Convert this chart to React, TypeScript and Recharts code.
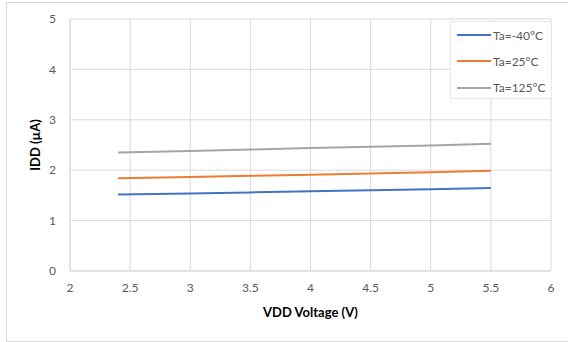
import React from 'react'
import { LineChart, Line, XAxis, YAxis, CartesianGrid, Label } from 'recharts'

const voltages = [2.4, 3.0, 3.5, 4.0, 4.5, 5.0, 5.5]
const iddMinus40 = [1.52, 1.54, 1.56, 1.58, 1.6, 1.62, 1.645]
const idd25 = [1.84, 1.865, 1.89, 1.91, 1.935, 1.96, 1.99]
const idd125 = [2.35, 2.38, 2.41, 2.44, 2.465, 2.49, 2.525]
const xTicks = [2, 2.5, 3, 3.5, 4, 4.5, 5, 5.5, 6]
const yTicks = [0, 1, 2, 3, 4, 5]

const seriesList = [
  { key: 'm40', name: 'Ta=-40°C', color: '#4472C4' },
  { key: 't25', name: 'Ta=25°C', color: '#ED7D31' },
  { key: 't125', name: 'Ta=125°C', color: '#A5A5A5' },
]

const data = voltages.map((v, i) => ({
  v,
  m40: iddMinus40[i],
  t25: idd25[i],
  t125: idd125[i],
}))

const font = 'Lato, "Open Sans", sans-serif'
const tickStyle = { fill: '#595959', fontSize: 12, fontFamily: font }

// legend sits over the plot, like the Excel one
function LegendBox() {
  return (
    <div
      style={{
        position: 'absolute',
        left: 450,
        top: 21,
        width: 102,
        height: 78,
        background: '#fff',
        border: '1px solid #E6E6E6',
        boxSizing: 'border-box',
        paddingTop: 0,
        fontFamily: font,
        fontSize: 12,
        color: '#595959',
      }}
    >
      {seriesList.map(s => (
        <div key={s.key} style={{ display: 'flex', alignItems: 'center', height: 26.3 }}>
          <div style={{ width: 34, height: 2, background: s.color, marginLeft: 6, marginRight: 2 }} />
          <span>{s.name}</span>
        </div>
      ))}
    </div>
  )
}

function YTitle(props: any) {
  const vb = props.viewBox || { x: 0, y: 0, width: 70, height: 252 }
  const cx = vb.x + 35
  const cy = vb.y + vb.height / 2
  return (
    <text
      x={cx}
      y={cy}
      transform={`rotate(-90, ${cx}, ${cy})`}
      textAnchor="middle"
      dominantBaseline="central"
      fontFamily={font}
      fontSize={13}
      fontWeight="bold"
      fill="#000"
    >
      IDD (µA)
    </text>
  )
}

export default function App() {
  return (
    <div style={{ position: 'absolute', left: 0, top: 0, width: 568, height: 342, background: '#fff', overflow: 'hidden' }}>
      <div
        style={{
          position: 'absolute',
          left: 6,
          top: 2,
          width: 580,
          height: 338,
          border: '1px solid #D9D9D9',
        }}
      />
      <LineChart
        width={568}
        height={342}
        data={data}
        margin={{ top: 19, right: 17, bottom: 21, left: 0 }}
        style={{ position: 'absolute', left: 0, top: 0 }}
      >
        <CartesianGrid stroke="#D9D9D9" />
        <XAxis
          dataKey="v"
          type="number"
          domain={[2, 6]}
          ticks={xTicks}
          tickLine={false}
          tickSize={0}
          tickMargin={12}
          axisLine={{ stroke: '#D9D9D9' }}
          tick={tickStyle}
          height={50}
        >
          <Label
            value="VDD Voltage (V)"
            position="insideBottom"
            offset={4}
            style={{ fontFamily: font, fontSize: 13, fontWeight: 'bold', fill: '#000' }}
          />
        </XAxis>
        <YAxis
          type="number"
          domain={[0, 5]}
          ticks={yTicks}
          tickLine={false}
          tickSize={0}
          tickMargin={14}
          axisLine={{ stroke: '#D9D9D9' }}
          tick={tickStyle}
          width={70}
        >
          <Label content={<YTitle />} />
        </YAxis>
        {seriesList.map(s => (
          <Line
            key={s.key}
            type="linear"
            dataKey={s.key}
            name={s.name}
            stroke={s.color}
            strokeWidth={2}
            dot={false}
            isAnimationActive={false}
          />
        ))}
      </LineChart>
      <LegendBox />
    </div>
  )
}
